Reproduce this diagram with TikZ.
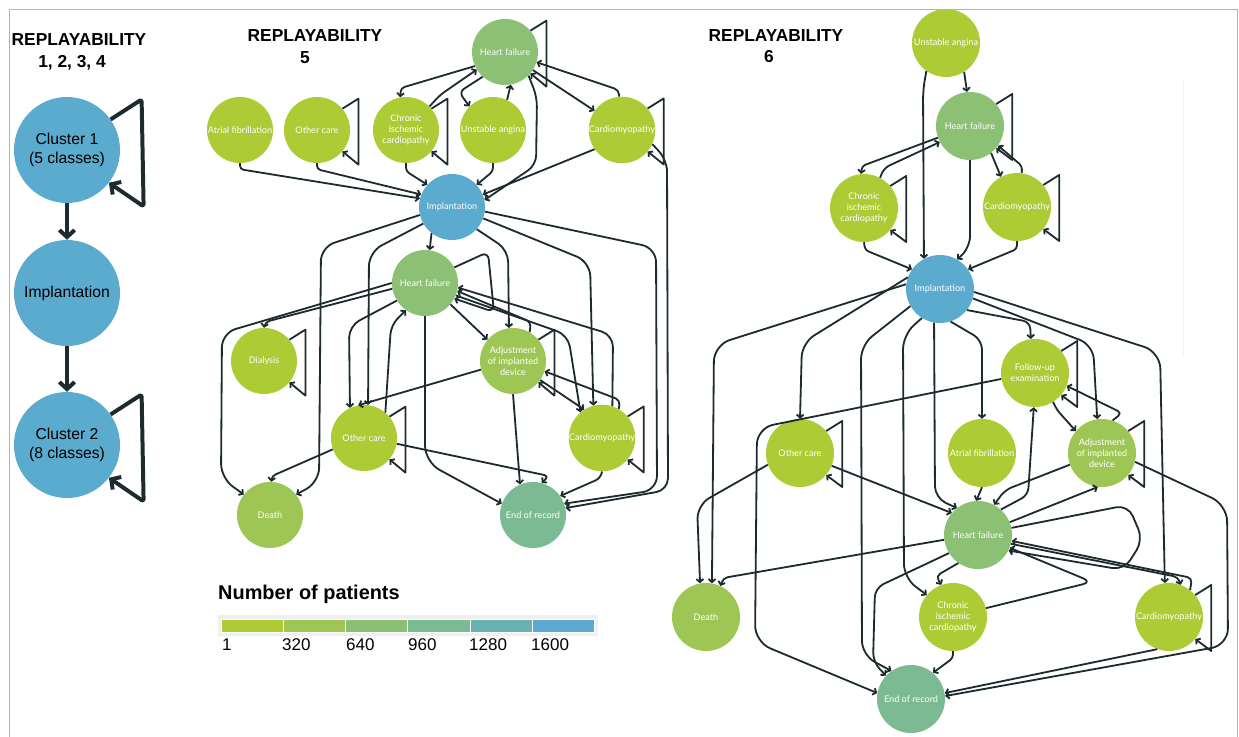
\documentclass[tikz,border=0pt]{standalone}
\usepackage{fontspec}
\setmainfont{Liberation Sans}
\newfontfamily\latofont{Lato}
\usetikzlibrary{arrows.meta}
\definecolor{nodeblue}{HTML}{5BABCF}
\definecolor{nodelime}{HTML}{ADCB35}
\definecolor{nodeolive}{HTML}{9EC655}
\definecolor{nodegreen}{HTML}{8BC075}
\definecolor{nodeteal}{HTML}{7BBA93}
\definecolor{linecol}{HTML}{1D2B2F}
\definecolor{leg1}{HTML}{AECB36}
\definecolor{leg2}{HTML}{9EC655}
\definecolor{leg3}{HTML}{8BC074}
\definecolor{leg4}{HTML}{7BBB93}
\definecolor{leg5}{HTML}{6AB2B0}
\definecolor{leg6}{HTML}{5BABD0}

\begin{document}
\begin{tikzpicture}[x=0.03cm,y=-0.03cm,
  state/.style={circle,minimum size=1.98cm,inner sep=0pt,text=white,align=center,font=\latofont\fontsize{7.8}{9.4}\selectfont},
  stateR/.style={state,minimum size=2.04cm},
  bigstate/.style={circle,fill=nodeblue,minimum size=3.18cm,inner sep=0pt,align=center,font=\fontsize{13.4}{16}\selectfont},
  edge/.style={draw=linecol,line width=1.55pt,line join=round,-{Straight Barb[length=2.6pt,width=6pt]},rounded corners=8pt},
  bigedge/.style={draw=linecol,line width=3.4pt,line join=round,-{Straight Barb[length=6pt,width=13pt]}},
  title/.style={font=\bfseries\fontsize{14.8}{17}\selectfont}]
\useasboundingbox (0,0) rectangle (1239,737);
\draw[gray!60,line width=0.8pt] (9,737) -- (9,9) -- (1237,9) -- (1237,737);
\draw[gray!12,line width=0.6pt] (1183,80) -- (1183,355);

% titles
\node[title] (t1) at (79,40) {REPLAYABILITY};
\node[title] (t1b) at (72,63) {1, 2, 3, 4};
\node[title] (t2) at (315,36) {REPLAYABILITY};
\node[title] (t2b) at (305,58) {5};
\node[title] (t3) at (776,36) {REPLAYABILITY};
\node[title] (t3b) at (769,57) {6};

% replayability 1-4
\node[bigstate] (a1) at (67,150) {Cluster 1\\(5 classes)};
\node[bigstate] (a2) at (67,293) {Implantation};
\node[bigstate] (a3) at (67,445) {Cluster 2\\(8 classes)};
\draw[bigedge] (a1.south) -- (a2.north);
\draw[bigedge] (a2.south) -- (a3.north);
\draw[bigedge,rounded corners=2pt] (a1.35) -- ++(31,-20) -- ++(2,107) -- (a1.-38);
\draw[bigedge,rounded corners=2pt] (a3.35) -- ++(31,-20) -- ++(2,107) -- (a3.-38);

% replayability 5
\node[state,fill=nodegreen] (bHF) at (505,52) {Heart failure};
\node[state,fill=nodelime] (bAF) at (240,130) {Atrial fibrillation};
\node[state,fill=nodelime] (bOC) at (317,130) {Other care};
\node[state,fill=nodelime] (bCIC) at (406,130) {Chronic\\ischemic\\cardiopathy};
\node[state,fill=nodelime] (bUA) at (493,130) {Unstable angina};
\node[state,fill=nodelime] (bCM) at (622,130) {Cardiomyopathy};
\node[state,fill=nodeblue] (bIMP) at (452,207) {Implantation};
\node[state,fill=nodegreen] (bHF2) at (425,283) {Heart failure};
\node[state,fill=nodelime] (bDIA) at (264,361) {Dialysis};
\node[state,fill=nodeolive] (bADJ) at (513,361) {Adjustment\\of implanted\\device};
\node[state,fill=nodelime] (bOC2) at (364,438) {Other care};
\node[state,fill=nodelime] (bCM2) at (602,438) {Cardiomyopathy};
\node[state,fill=nodeolive] (bDTH) at (270,515) {Death};
\node[state,fill=nodeteal] (bEND) at (533,515) {End of record};

% replayability 6
\node[stateR,fill=nodelime] (cUA) at (946,43) {Unstable angina};
\node[stateR,fill=nodegreen] (cHF) at (970,126) {Heart failure};
\node[stateR,fill=nodelime] (cCIC) at (864,208) {Chronic\\ischemic\\cardiopathy};
\node[stateR,fill=nodelime] (cCM) at (1017,207) {Cardiomyopathy};
\node[stateR,fill=nodeblue] (cIMP) at (940,289) {Implantation};
\node[stateR,fill=nodelime] (cFU) at (1035,373) {Follow-up\\examination};
\node[stateR,fill=nodelime] (cOC) at (800,453) {Other care};
\node[stateR,fill=nodelime] (cAF) at (982,453) {Atrial fibrillation};
\node[stateR,fill=nodeolive] (cADJ) at (1102,453) {Adjustment\\of implanted\\device};
\node[stateR,fill=nodegreen] (cHF2) at (978,535) {Heart failure};
\node[stateR,fill=nodeolive] (cDTH) at (706,617) {Death};
\node[stateR,fill=nodelime] (cCIC2) at (953,617) {Chronic\\ischemic\\cardiopathy};
\node[stateR,fill=nodelime] (cCM2) at (1169,617) {Cardiomyopathy};
\node[stateR,fill=nodeteal] (cEND) at (911,699) {End of record};

% self loops
\foreach \n in {bHF,bOC,bCIC,bCM,bDIA,bADJ,bOC2,bCM2,cHF,cCIC,cCM,cFU,cOC,cADJ,cCM2}
  \draw[edge,rounded corners=0pt] (\n.40) -- ++(16,-10) -- ++(0,66) -- (\n.-40);

% edges, replayability 5
\draw[edge,rounded corners=3pt] (bAF.-90) -- ++(0,6) -- (bIMP.165);
\draw[edge,rounded corners=3pt] (bOC.-90) -- ++(0,6) -- (bIMP.158);
\draw[edge,rounded corners=3pt] (bCIC.-90) -- ++(0,8) -- (bIMP.138);
\draw[edge,rounded corners=3pt] (bUA.-90) -- ++(0,8) -- (bIMP.42);
\draw[edge] (bCM.215) -- (bIMP.22);
\draw[edge,rounded corners=3pt] (bHF.205) -- (401,88) -- (bCIC.100);
\draw[edge,rounded corners=5pt] (bCIC.45) -- (440,95) -- (bHF.212);
\draw[edge,rounded corners=5pt] (bHF.228) -- (459,92) -- (bUA.135);
\draw[edge] (bUA.65) -- (bHF.-80);
\draw[edge] (bHF.-45) -- (537,97) -- (536,165) -- (bIMP.12);
\draw[edge] (bHF.-33) -- (bCM.145);
\draw[edge,rounded corners=4pt] (bCM.95) -- (619,90) -- (bHF.-18);
\draw[edge,rounded corners=10pt] (bCM.-25) -- (667,160) -- (668,490) -- (bEND.12);
\draw[edge] (bIMP.-128) -- (bHF2.82);
\draw[edge,rounded corners=12pt] (bIMP.-150) -- (369,252) -- (bOC2.83);
\draw[edge,rounded corners=12pt] (bIMP.-166) -- (321,247) -- (319,482) -- (bDTH.38);
\draw[edge,rounded corners=10pt] (bIMP.-42) -- (508,250) -- (bADJ.97);
\draw[edge,rounded corners=12pt] (bIMP.-20) -- (590,262) -- (bCM2.105);
\draw[edge,rounded corners=12pt] (bIMP.-8) -- (656,248) -- (657,490) -- (bEND.20);
\draw[edge,rounded corners=6pt] (bHF2.28) -- (488,252) -- (494,312) -- (bHF2.-28);
\draw[edge,rounded corners=4pt] (bHF2.190) -- (265,322) -- (bDIA.90);
\draw[edge,rounded corners=12pt] (bHF2.180) -- (222,333) -- (221,478) -- (bDTH.142);
\draw[edge,rounded corners=10pt] (bHF2.212) -- (349,326) -- (bOC2.115);
\draw[edge,rounded corners=8pt] (bOC2.50) -- (391,325) -- (bHF2.235);
\draw[edge,rounded corners=14pt] (bHF2.-90) -- (425,462) -- (bEND.160);
\draw[edge] (bHF2.-40) -- (bADJ.140);
\draw[edge,rounded corners=4pt] (bADJ.60) -- (531,322) -- (bHF2.-14);
\draw[edge,rounded corners=10pt] (bHF2.-22) -- (568,335) -- (bCM2.130);
\draw[edge,rounded corners=10pt] (bCM2.72) -- (613,335) -- (bHF2.-8);
\draw[edge] (bADJ.195) -- (bOC2.100);
\draw[edge] (bADJ.-35) -- (bCM2.122);
\draw[edge,rounded corners=4pt] (bCM2.60) -- (620,400) -- (bADJ.-18);
\draw[edge,rounded corners=3pt] (bOC2.200) -- (272,476) -- (bDTH.88);
\draw[edge,rounded corners=4pt] (bOC2.-10) -- (549,476) -- (bEND.75);
\draw[edge] (bADJ.-90) -- (bEND.113);
\draw[edge,rounded corners=5pt] (bCM2.-90) -- (601,478) -- (bEND.35);

% edges, replayability 6
\draw[edge] (cUA.-58) -- (cHF.95);
\draw[edge] (cUA.-125) -- (923,90) -- (cIMP.118);
\draw[edge,rounded corners=3pt] (cHF.200) -- (862,166) -- (cCIC.95);
\draw[edge,rounded corners=5pt] (cCIC.62) -- (884,168) -- (cHF.208);
\draw[edge,rounded corners=10pt] (cHF.-90) -- (970,248) -- (cIMP.60);
\draw[edge] (cHF.-52) -- (cCM.118);
\draw[edge,rounded corners=3pt] (cCM.82) -- (1022,166) -- (cHF.-35);
\draw[edge,rounded corners=3pt] (cCIC.-90) -- (865,250) -- (cIMP.145);
\draw[edge,rounded corners=3pt] (cCM.-90) -- (1017,249) -- (cIMP.35);
\draw[edge,rounded corners=14pt] (cIMP.172) -- (714,345) -- (cDTH.80);
\draw[edge,rounded corners=12pt] (cIMP.160) -- (802,343) -- (cOC.90);
\draw[edge,rounded corners=12pt] (cIMP.-150) -- (861,345) -- (862,655) -- (cEND.125);
\draw[edge,rounded corners=12pt] (cIMP.-122) -- (903,335) -- (904,578) -- (cCIC2.140);
\draw[edge,rounded corners=10pt] (cIMP.-100) -- (935,498) -- (cHF2.128);
\draw[edge,rounded corners=8pt] (cIMP.-72) -- (982,340) -- (cAF.90);
\draw[edge,rounded corners=6pt] (cIMP.-38) -- (1030,322) -- (cFU.97);
\draw[edge,rounded corners=12pt] (cIMP.-16) -- (1093,345) -- (cADJ.98);
\draw[edge,rounded corners=14pt] (cIMP.-5) -- (1160,352) -- (cCM2.97);
\draw[edge,rounded corners=14pt] (cFU.190) -- (757,428) -- (755,642) -- (cEND.170);
\draw[edge,rounded corners=12pt] (cOC.200) -- (697,505) -- (cDTH.100);
\draw[edge,rounded corners=14pt] (cADJ.-15) -- (1227,505) -- (1228,645) -- (cEND.5);
\draw[edge] (cCM2.-110) -- (cEND.10);
\draw[edge,rounded corners=3pt] (cCIC2.-90) -- (953,658) -- (cEND.50);
\draw[edge] (cHF2.212) -- (875,588) -- (873,662) -- (cEND.137);
\draw[edge,rounded corners=4pt] (cHF2.-125) -- (936,576) -- (cCIC2.110);
\draw[edge,rounded corners=4pt] (cHF2.188) -- (723,578) -- (cDTH.65);
\draw[edge,rounded corners=4pt] (cHF2.-15) -- (1178,577) -- (cCM2.70);
\draw[edge,rounded corners=4pt] (cCM2.52) -- (1192,578) -- (cHF2.-10);
\draw[edge] (cCIC2.15) -- (1092,582) -- (cHF2.-22);
\draw[edge,rounded corners=10pt] (cHF2.12) -- (1128,505) -- (1143,540) -- (1124,570) -- (cHF2.-27);
\draw[edge] (cOC.-22) -- (cHF2.140);
\draw[edge] (cAF.-90) -- (cHF2.93);
\draw[edge,rounded corners=6pt] (cADJ.200) -- (1005,490) -- (cHF2.62);
\draw[edge,rounded corners=6pt] (cHF2.48) -- (1028,495) -- (cFU.-92);
\draw[edge] (cHF2.22) -- (cADJ.-97);
\draw[edge,rounded corners=3pt] (cFU.-58) -- (1057,410) -- (cADJ.140);
\draw[edge,rounded corners=4pt] (cADJ.72) -- (1122,413) -- (cFU.-22);

% legend
\node[anchor=west,inner sep=0pt,font=\bfseries\fontsize{17}{20}\selectfont] (legT) at (218,594) {Number of patients};
\fill[gray!12] (218,615) rectangle (598,636);
\foreach \c [count=\i from 0] in {leg1,leg2,leg3,leg4,leg5,leg6}
  \filldraw[fill=\c,draw=white,line width=0.8pt] (221+62.3*\i,619) rectangle ++(62.3,13);
\foreach \v/\x in {1/222,320/282,640/346,960/408,1280/469,1600/531}
  \node[anchor=west,inner sep=0pt,font=\fontsize{14.5}{16}\selectfont] (lab\v) at (\x,645) {\v};
\end{tikzpicture}
\end{document}
